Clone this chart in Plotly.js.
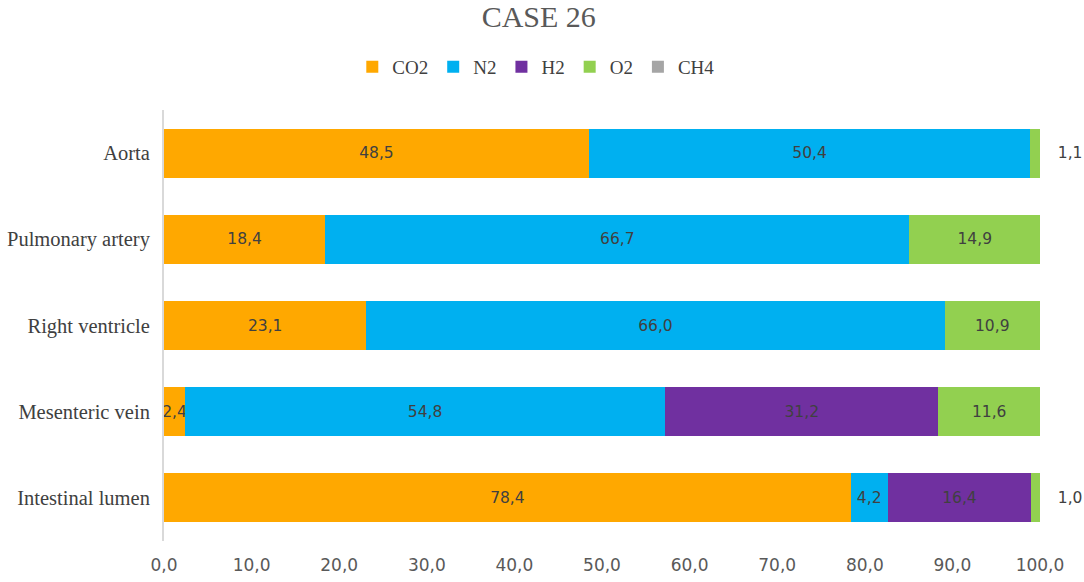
<!DOCTYPE html>
<html>
<head>
<meta charset="utf-8">
<script src="https://cdn.plot.ly/plotly-3.0.1.min.js"></script>
<style>
  html, body { margin: 0; padding: 0; background: #fff; }
  #chart { width: 1084px; height: 582px; }
</style>
</head>
<body>
<div id="chart"></div>
<script>
var sites = ['Aorta', 'Pulmonary artery', 'Right ventricle', 'Mesenteric vein', 'Intestinal lumen'];

var co2 = [48.5, 18.4, 23.1, 2.4, 78.4];
var n2  = [50.4, 66.7, 66.0, 54.8, 4.2];
var h2  = [null, null, null, 31.2, 16.4];
var o2  = [1.1, 14.9, 10.9, 11.6, 1.0];
var ch4 = [null, null, null, null, null];

var gasNames  = ['CO2', 'N2', 'H2', 'O2', 'CH4'];
var gasColors = ['#FFA800', '#00B0F0', '#7030A0', '#92D050', '#A5A5A5'];
var gasValues = [co2, n2, h2, o2, ch4];

var labelFont = { family: 'DejaVu Sans, Verdana, sans-serif', size: 15.5, color: '#404040' };
var serif = 'Liberation Serif, Times New Roman, serif';

var traces = gasNames.map(function(name, i) {
    var vals = gasValues[i];
    // tiny O2 slices get their label outside the bar, like the original
    var small = vals.map(function(v) { return v !== null && v < 2 && name === 'O2'; });
    return {
        type: 'bar',
        orientation: 'h',
        name: name,
        y: sites,
        x: vals,
        marker: { color: gasColors[i] },
        text: vals.map(function(v, k) {
            if (v === null) return '';
            var s = v.toFixed(1).replace('.', ',');
            return small[k] ? '\u00a0\u00a0\u00a0' + s : s;
        }),
        textposition: small.map(function(s) { return s ? 'outside' : 'inside'; }),
        insidetextanchor: 'middle',
        textangle: 0,
        constraintext: 'none',
        textfont: labelFont,
        insidetextfont: labelFont,
        outsidetextfont: labelFont,
        cliponaxis: false,
        hoverinfo: 'x+name'
    };
});

var layout = {
    width: 1084,
    height: 582,
    barmode: 'stack',
    bargap: 0.43,
    separators: ', ',
    paper_bgcolor: '#fff',
    plot_bgcolor: '#fff',
    margin: { l: 164, r: 44, t: 110, b: 41 },
    title: {
        text: 'CASE 26',
        font: { family: serif, size: 30, color: '#595959' },
        x: 0.497, xref: 'container', xanchor: 'center',
        y: 0.972, yref: 'container', yanchor: 'middle'
    },
    legend: {
        orientation: 'h',
        x: 0.425, xanchor: 'center',
        y: 1.1, yanchor: 'middle',
        font: { family: serif, size: 19, color: '#404040' },
        itemwidth: 30,
        traceorder: 'normal'
    },
    xaxis: {
        range: [0, 100],
        dtick: 10,
        tick0: 0,
        tickformat: '.1f',
        showgrid: false,
        zeroline: false,
        showline: false,
        ticks: '',
        ticklabelstandoff: 12,
        tickfont: { family: 'DejaVu Sans, Verdana, sans-serif', size: 17, color: '#595959' }
    },
    yaxis: {
        autorange: 'reversed',
        showgrid: false,
        zeroline: false,
        showline: true,
        linecolor: '#D9D9D9',
        linewidth: 2,
        ticks: '',
        ticklabelstandoff: 8,
        tickfont: { family: serif, size: 20.5, color: '#404040' }
    },
    showlegend: true
};

Plotly.newPlot('chart', traces, layout, { displayModeBar: false, staticPlot: true });
</script>
</body>
</html>
